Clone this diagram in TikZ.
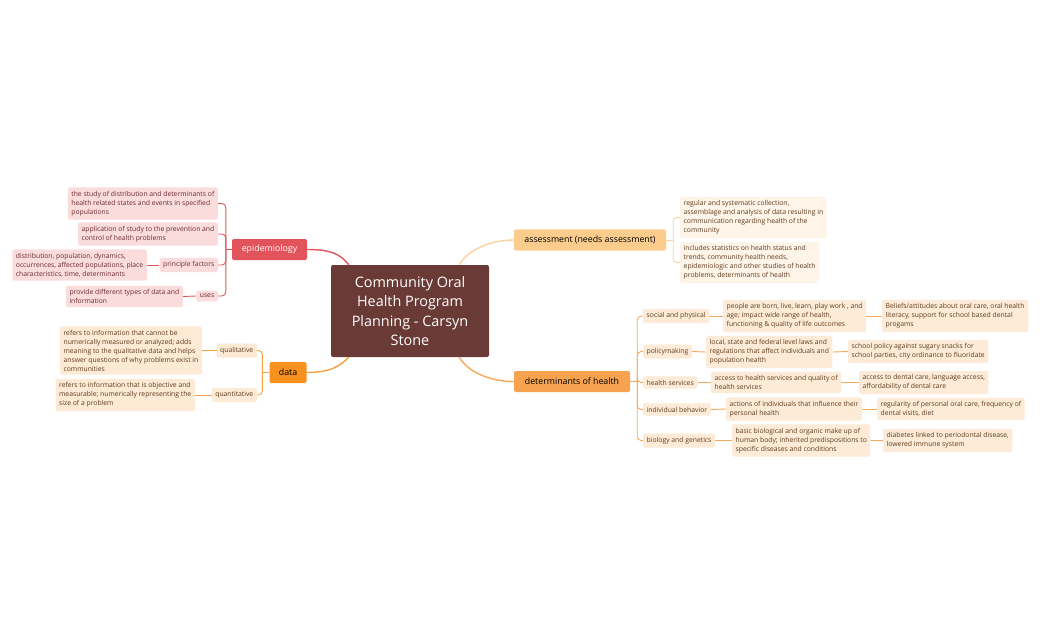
\documentclass[tikz,border=0pt]{standalone}
\usepackage{fontspec}
\setmainfont{Open Sans}
\usepackage{xcolor}
\usetikzlibrary{calc,positioning}
\definecolor{rootfill}{HTML}{6A3A36}
\definecolor{epired}{HTML}{E2535B}
\definecolor{epifill}{HTML}{FADCDD}
\definecolor{epitext}{HTML}{6B2C31}
\definecolor{dataorange}{HTML}{F7911F}
\definecolor{dataline}{HTML}{F7A13F}
\definecolor{datafill}{HTML}{FDEAD5}
\definecolor{assessfill}{HTML}{FBCC8C}
\definecolor{assessline}{HTML}{FBD3A0}
\definecolor{assesschild}{HTML}{FEF4E8}
\definecolor{detfill}{HTML}{F6A24F}
\definecolor{detline}{HTML}{F7A85A}
\definecolor{detchild}{HTML}{FDEBD7}
\definecolor{browntext}{HTML}{5E3B1E}

\tikzset{
    topic/.style={rounded corners=2pt, inner sep=0pt, minimum height=21pt,
        font=\fontsize{8.8}{11}\selectfont},
    leaf/.style={rounded corners=2pt, inner xsep=3.5pt, inner ysep=3.6pt,
        align=left, font=\fontsize{6.8}{9}\selectfont},
    epileaf/.style={leaf, fill=epifill, text=epitext},
    dataleaf/.style={leaf, fill=datafill, text=browntext},
    assessleaf/.style={leaf, fill=assesschild, text=browntext},
    detleaf/.style={leaf, fill=detchild, text=browntext},
    branch/.style={line width=0.9pt, rounded corners=4pt},
    mainline/.style={line width=1.4pt}
}

\begin{document}
\begin{tikzpicture}[x=1pt,y=-1pt]
    \useasboundingbox[fill=white] (0,0) rectangle (1040,644);

    % Central topic
    \node[fill=rootfill, text=white, rounded corners=2pt, minimum width=158pt,
        minimum height=92pt, align=center, inner sep=0pt,
        font=\fontsize{14.4}{19.5}\selectfont] (root) at (410,311)
        {Community Oral\\Health Program\\Planning - Carsyn\\Stone};

    % Main topics
    \node[topic, fill=epired, text=white, minimum width=75pt] (epi) at (269.5,249.5) {epidemiology};
    \node[topic, fill=dataorange, text=black, minimum width=37pt] (data) at (288,372.5) {data};
    \node[topic, fill=assessfill, text=black, minimum width=152pt] (assess) at (590,240) {assessment (needs assessment)};
    \node[topic, fill=detfill, text=black, minimum width=116pt] (det) at (572,381.5) {determinants of health};

    % Root connectors
    \draw[mainline, epired] (epi.east) .. controls +(25,0) and +(-8,-10) .. ($(root.north west)+(18,0)$);
    \draw[mainline, dataline] (data.east) .. controls +(25,0) and +(-8,8) .. ($(root.south west)+(18,0)$);
    \draw[mainline, assessline] ($(root.north east)+(-30,0)$) .. controls +(8,-14) and +(-25,0) .. (assess.west);
    \draw[mainline, detline] ($(root.south east)+(-30,0)$) .. controls +(8,14) and +(-25,0) .. (det.west);

    % Epidemiology
    \node[epileaf, anchor=east] (study) at (218,203.5)
        {the study of distribution and determinants of\\health related states and events in specified\\populations};
    \node[epileaf, anchor=east] (application) at (218,234)
        {application of study to the prevention and\\control of health problems};
    \node[epileaf, anchor=east] (principle) at (218,265) {principle factors};
    \node[epileaf, anchor=east] (uses) at (218,296) {uses};
    \node[epileaf, anchor=east] (factors) at (147,265)
        {distribution, population, dynamics,\\occurrences, affected populations, place\\characteristics, time, determinants};
    \node[epileaf, anchor=east] (provide) at (183,296.5)
        {provide different types of data and\\information};
    \coordinate (epij) at ($(epi.west)+(-6,0)$);
    \draw[branch, epired] (epi.west) -- (epij);
    \foreach \c in {study,application,principle,uses}
        \draw[branch, epired] (epij) |- (\c.east);
    \draw[branch, epired] (principle.west) -- (factors.east);
    \draw[branch, epired] (uses.west) -- (provide.east);

    % Data
    \node[dataleaf, anchor=east] (qual) at (257,350.5) {qualitative};
    \node[dataleaf, anchor=east] (quant) at (257,395) {quantitative};
    \node[dataleaf, anchor=east] (qualtext) at (202,350.5)
        {refers to information that cannot be\\numerically measured or analyzed; adds\\meaning to the qualitative data and helps\\answer questions of why problems exist in\\communities};
    \node[dataleaf, anchor=east] (quanttext) at (195,395)
        {refers to information that is objective and\\measurable; numerically representing the\\size of a problem};
    \coordinate (dataj) at ($(data.west)+(-7,0)$);
    \draw[branch, dataline] (data.west) -- (dataj);
    \foreach \c in {qual,quant}
        \draw[branch, dataline] (dataj) |- (\c.east);
    \draw[branch, dataline] (qual.west) -- (qualtext.east);
    \draw[branch, dataline] (quant.west) -- (quanttext.east);

    % Assessment
    \node[assessleaf, anchor=west] (collect) at (680,217.5)
        {regular and systematic collection,\\assemblage and analysis of data resulting in\\communication regarding health of the\\community};
    \node[assessleaf, anchor=west] (stats) at (680,262.5)
        {includes statistics on health status and\\trends, community health needs,\\epidemiologic and other studies of health\\problems, determinants of health};
    \coordinate (assessj) at ($(assess.east)+(7,0)$);
    \draw[branch, assessline] (assess.east) -- (assessj);
    \foreach \c in {collect,stats}
        \draw[branch, assessline] (assessj) |- (\c.west);

    % Determinants of health
    \node[detleaf, anchor=west] (social) at (643,316) {social and physical};
    \node[detleaf, anchor=west] (policy) at (643,351.5) {policymaking};
    \node[detleaf, anchor=west] (services) at (643,382.5) {health services};
    \node[detleaf, anchor=west] (behavior) at (643,409.5) {individual behavior};
    \node[detleaf, anchor=west] (biology) at (643,440.5) {biology and genetics};

    \node[detleaf, anchor=west] (born) at (723,316)
        {people are born, live, learn, play work , and\\age; impact wide range of health,\\functioning \& quality of life outcomes};
    \node[detleaf, anchor=west] (beliefs) at (882,316)
        {Beliefs/attitudes about oral care, oral health\\literacy, support for school based dental\\progams};
    \node[detleaf, anchor=west] (laws) at (706,352)
        {local, state and federal level laws and\\regulations that affect individuals and\\population health};
    \node[detleaf, anchor=west] (snacks) at (848,351.5)
        {school policy against sugary snacks for\\school parties, city ordinance to fluoridate};
    \node[detleaf, anchor=west] (access) at (711,382.5)
        {access to health services and quality of\\health services};
    \node[detleaf, anchor=west] (dental) at (859,382.5)
        {access to dental care, language access,\\affordability of dental care};
    \node[detleaf, anchor=west] (actions) at (726,409)
        {actions of individuals that influence their\\personal health};
    \node[detleaf, anchor=west] (regular) at (877,409)
        {regularity of personal oral care, frequency of\\dental visits, diet};
    \node[detleaf, anchor=west] (genes) at (732,440.5)
        {basic biological and organic make up of\\human body; inherited predispositions to\\specific diseases and conditions};
    \node[detleaf, anchor=west] (diabetes) at (883,440.5)
        {diabetes linked to periodontal disease,\\lowered immune system};

    \coordinate (detj) at ($(det.east)+(7,0)$);
    \draw[branch, detline] (det.east) -- (detj);
    \foreach \c in {social,policy,services,behavior,biology}
        \draw[branch, detline] (detj) |- (\c.west);
    \foreach \a/\b in {social/born,born/beliefs,policy/laws,laws/snacks,services/access,
        access/dental,behavior/actions,actions/regular,biology/genes,genes/diabetes}
        \draw[branch, detline] (\a.east) -- (\b.west);
\end{tikzpicture}
\end{document}
